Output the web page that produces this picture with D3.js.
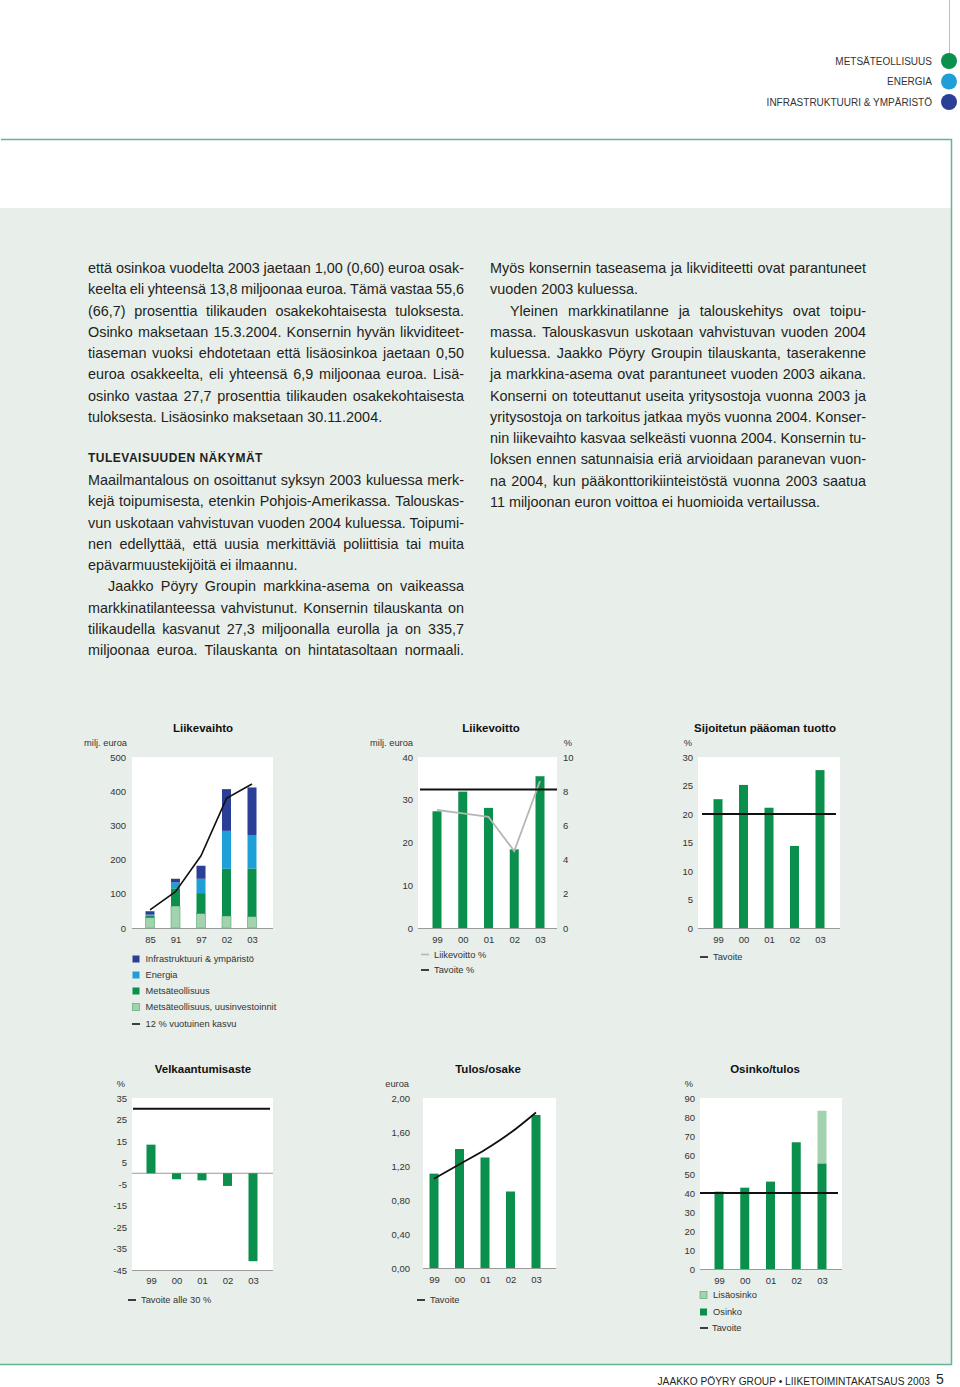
<!DOCTYPE html>
<html><head><meta charset="utf-8">
<script src="https://cdn.jsdelivr.net/npm/d3@7"></script>
<style>
html,body{margin:0;padding:0;background:#fff;}
svg{display:block;font-family:"Liberation Sans",Arial,Helvetica,sans-serif;}
</style></head><body>
<svg id="page" width="960" height="1387"></svg>
<script>
// ---------------- DATA ----------------
const divisions = ["METSÄTEOLLISUUS", "ENERGIA", "INFRASTRUKTUURI & YMPÄRISTÖ"];
const divisionColors = ["#0b8f4d", "#1e9fd8", "#2b3f97"];

const lvYears = ["85", "91", "97", "02", "03"];
const lvUusi = [30, 64, 42, 35, 33];
const lvMetsa = [6, 52, 60, 138, 141];
const lvEnergia = [3, 17, 42, 111, 98];
const lvInfra = [10, 11, 38, 122, 139];
const lvKasvu = [53, 106, 211, 379, 421];
const lvTicks = [0, 100, 200, 300, 400, 500];

const years = ["99", "00", "01", "02", "03"];
const liikevoitto = [27.3, 31.9, 28.1, 18.4, 35.5];
const liikevoittoPct = [6.9, 6.7, 6.5, 4.5, 8.6];
const liikevoittoTavoite = 8.1;
const lvoTicks = [0, 10, 20, 30, 40];
const lvoPctTicks = [0, 2, 4, 6, 8, 10];

const spTuotto = [22.6, 25.1, 21.1, 14.4, 27.7];
const spTavoite = 20;
const spTicks = [0, 5, 10, 15, 20, 25, 30];

const velka = [13.3, -2.8, -3.3, -5.9, -40.9];
const velkaTavoite = 30;
const velkaTicks = [35, 25, 15, 5, -5, -15, -25, -35, -45];

const eps = [1.11, 1.40, 1.30, 0.90, 1.80];
const epsTavoite = [1.05, 1.22, 1.39, 1.59, 1.83];
const epsTicks = [0, 0.4, 0.8, 1.2, 1.6, 2.0];

const osinko = [40.7, 42.8, 46.0, 66.7, 55.6];
const lisaosinko = [0, 0, 0, 0, 27.7];
const osinkoTavoite = 40;
const osinkoTicks = [0, 10, 20, 30, 40, 50, 60, 70, 80, 90];

const leftLines = [
  ["että osinkoa vuodelta 2003 jaetaan 1,00 (0,60) euroa osak-", 1, 0],
  ["keelta eli yhteensä 13,8 miljoonaa euroa. Tämä vastaa 55,6", 1, 0],
  ["(66,7) prosenttia tilikauden osakekohtaisesta tuloksesta.", 1, 0],
  ["Osinko maksetaan 15.3.2004. Konsernin hyvän likviditeet-", 1, 0],
  ["tiaseman vuoksi ehdotetaan että lisäosinkoa jaetaan 0,50", 1, 0],
  ["euroa osakkeelta, eli yhteensä 6,9 miljoonaa euroa. Lisä-", 1, 0],
  ["osinko vastaa 27,7 prosenttia tilikauden osakekohtaisesta", 1, 0],
  ["tuloksesta. Lisäosinko maksetaan 30.11.2004.", 0, 0]
];
const heading = "TULEVAISUUDEN NÄKYMÄT";
const leftLines2 = [
  ["Maailmantalous on osoittanut syksyn 2003 kuluessa merk-", 1, 0],
  ["kejä toipumisesta, etenkin Pohjois-Amerikassa. Talouskas-", 1, 0],
  ["vun uskotaan vahvistuvan vuoden 2004 kuluessa. Toipumi-", 1, 0],
  ["nen edellyttää, että uusia merkittäviä poliittisia tai muita", 1, 0],
  ["epävarmuustekijöitä ei ilmaannu.", 0, 0],
  ["Jaakko Pöyry Groupin markkina-asema on vaikeassa", 1, 1],
  ["markkinatilanteessa vahvistunut. Konsernin tilauskanta on", 1, 0],
  ["tilikaudella kasvanut 27,3 miljoonalla eurolla ja on 335,7", 1, 0],
  ["miljoonaa euroa. Tilauskanta on hintatasoltaan normaali.", 1, 0]
];
const rightLines = [
  ["Myös konsernin taseasema ja likviditeetti ovat parantuneet", 1, 0],
  ["vuoden 2003 kuluessa.", 0, 0],
  ["Yleinen markkinatilanne ja talouskehitys ovat toipu-", 1, 1],
  ["massa. Talouskasvun uskotaan vahvistuvan vuoden 2004", 1, 0],
  ["kuluessa. Jaakko Pöyry Groupin tilauskanta, taserakenne", 1, 0],
  ["ja markkina-asema ovat parantuneet vuoden 2003 aikana.", 1, 0],
  ["Konserni on toteuttanut useita yritysostoja vuonna 2003 ja", 1, 0],
  ["yritysostoja on tarkoitus jatkaa myös vuonna 2004. Konser-", 1, 0],
  ["nin liikevaihto kasvaa selkeästi vuonna 2004. Konsernin tu-", 1, 0],
  ["loksen ennen satunnaisia eriä arvioidaan paranevan vuon-", 1, 0],
  ["na 2004, kun pääkonttorikiinteistöstä vuonna 2003 saatua", 1, 0],
  ["11 miljoonan euron voittoa ei huomioida vertailussa.", 0, 0]
];

// ---------------- STYLE ----------------
const FONT = '"Liberation Sans", Arial, Helvetica, sans-serif';
const C = {
  text: "#231f20", panel: "#e8eee9", border: "#67b494",
  green: "#0b8f4d", lightBlue: "#1e9fd8", darkBlue: "#2b3f97", lightGreen: "#a3d2ae",
  axis: "#9a9a9a"
};
const TICK = 9.5, LEG = 9.3;

const svg = d3.select("#page");

// ---------------- PAGE FRAME ----------------
svg.append("rect").attr("x", 0).attr("y", 208).attr("width", 951).attr("height", 1156).attr("fill", C.panel);
svg.append("path").attr("d", "M1,139.5 H951.5 V1364.5 H0").attr("fill", "none").attr("stroke", C.border).attr("stroke-width", 1.5);
svg.append("line").attr("x1", 949.5).attr("x2", 949.5).attr("y1", 0).attr("y2", 55).attr("stroke", "#bdbdbd").attr("stroke-width", 1);

const hdr = svg.append("g");
divisions.forEach((d, i) => {
  const cy = 61 + i * 20.5;
  hdr.append("circle").attr("cx", 949).attr("cy", cy).attr("r", 8).attr("fill", divisionColors[i]);
  hdr.append("text").attr("x", 932).attr("y", cy + 3.7).attr("text-anchor", "end")
    .attr("font-size", 10).attr("fill", "#333").text(d);
});

// footer
svg.append("text").attr("x", 930).attr("y", 1384.5).attr("text-anchor", "end").attr("font-size", 10.2).attr("fill", C.text)
  .text("JAAKKO PÖYRY GROUP  •  LIIKETOIMINTAKATSAUS 2003");
svg.append("text").attr("x", 936).attr("y", 1384).attr("font-size", 14).attr("fill", C.text).text("5");

// ---------------- BODY TEXT ----------------
function textBlock(lines, x0, y0, width) {
  lines.forEach((l, i) => {
    const indent = l[2] ? 20 : 0;
    const t = svg.append("text").attr("x", x0 + indent).attr("y", y0 + i * 21.25)
      .attr("font-size", 14.4).attr("fill", C.text).attr("xml:space", "preserve").text(l[0]);
    if (l[1]) {
      const len = t.node().getComputedTextLength();
      const spaces = (l[0].match(/ /g) || []).length;
      if (spaces > 0) t.attr("word-spacing", ((width - indent - len) / spaces).toFixed(3));
    }
  });
}
textBlock(leftLines, 88, 273, 376);
svg.append("text").attr("x", 88).attr("y", 462).attr("font-size", 12).attr("font-weight", "bold")
  .attr("letter-spacing", 0.5).attr("fill", C.text).text(heading);
textBlock(leftLines2, 88, 485, 376);
textBlock(rightLines, 490, 273, 376);

// ---------------- CHART HELPERS ----------------
function styleAxis(a) {
  a.attr("font-family", FONT).attr("font-size", TICK);
  a.select(".domain").remove();
  a.selectAll("text").attr("fill", "#333");
}

function makeChart(o) {
  const g = svg.append("g");
  g.append("rect").attr("x", o.left).attr("y", o.top).attr("width", o.right - o.left).attr("height", o.bottom - o.top).attr("fill", "#fff");
  const y = d3.scaleLinear().domain(o.yDomain).range([o.bottom, o.top]);
  const x = d3.scalePoint().domain(o.cats).range(o.xRange);
  g.append("g").attr("transform", `translate(${o.left},0)`)
    .call(d3.axisLeft(y).tickValues(o.yTicks).tickFormat(o.yFmt || (d => d)).tickSize(0).tickPadding(o.yPad || 5))
    .call(styleAxis);
  g.append("g").attr("transform", `translate(0,${o.bottom})`)
    .call(d3.axisBottom(x).tickSize(0).tickPadding(o.xPad || 8))
    .call(styleAxis);
  g.append("line").attr("x1", o.left).attr("x2", o.right).attr("y1", o.bottom + 0.5).attr("y2", o.bottom + 0.5)
    .attr("stroke", C.axis).attr("stroke-width", 1);
  g.append("text").attr("x", o.titleX).attr("y", o.top - 25).attr("text-anchor", "middle")
    .attr("font-size", 11.5).attr("font-weight", "bold").attr("fill", "#111").text(o.title);
  g.append("text").attr("x", o.unitX).attr("y", o.top - 11).attr("text-anchor", "end")
    .attr("font-size", LEG).attr("fill", "#333").text(o.unit);
  return { g, x, y };
}

function bars(ch, vals, color, base) {
  const b = base || vals.map(() => 0);
  ch.g.append("g").selectAll("rect").data(vals).join("rect")
    .attr("x", (d, i) => ch.x(ch.x.domain()[i]) - 4.5)
    .attr("width", 9)
    .attr("y", (d, i) => ch.y(Math.max(b[i] + d, b[i])))
    .attr("height", (d, i) => Math.abs(ch.y(b[i]) - ch.y(b[i] + d)))
    .attr("fill", color);
}

function hline(ch, v, x1, x2) {
  ch.g.append("line").attr("x1", x1).attr("x2", x2).attr("y1", ch.y(v)).attr("y2", ch.y(v))
    .attr("stroke", "#111").attr("stroke-width", 2);
}

function legendSquare(x, y, color, label, stroke) {
  svg.append("rect").attr("x", x).attr("y", y - 3.5).attr("width", 7).attr("height", 7).attr("fill", color)
    .attr("stroke", stroke || "none").attr("stroke-width", 0.8);
  svg.append("text").attr("x", x + 13).attr("y", y + 3.2).attr("font-size", LEG).attr("fill", "#333").text(label);
}
function legendLine(x, y, color, label, tx) {
  svg.append("line").attr("x1", x).attr("x2", x + 8).attr("y1", y).attr("y2", y).attr("stroke", color).attr("stroke-width", 1.6);
  svg.append("text").attr("x", tx).attr("y", y + 3.2).attr("font-size", LEG).attr("fill", "#333").text(label);
}

// ---------------- CHART 1: Liikevaihto ----------------
{
  const ch = makeChart({ left: 132, right: 273, top: 757, bottom: 928, xRange: [150, 252], cats: lvYears,
    yDomain: [0, 500], yTicks: lvTicks, yPad: 6, title: "Liikevaihto", titleX: 203, unit: "milj. euroa", unitX: 127 });
  const rows = lvYears.map((k, i) => ({ uusi: lvUusi[i], metsa: lvMetsa[i], energia: lvEnergia[i], infra: lvInfra[i] }));
  const keys = ["uusi", "metsa", "energia", "infra"];
  const cols = { uusi: C.lightGreen, metsa: C.green, energia: C.lightBlue, infra: C.darkBlue };
  const series = d3.stack().keys(keys)(rows);
  series.forEach(s => {
    ch.g.append("g").selectAll("rect").data(s).join("rect")
      .attr("x", (d, i) => ch.x(lvYears[i]) - 4.5).attr("width", 9)
      .attr("y", d => ch.y(d[1])).attr("height", d => ch.y(d[0]) - ch.y(d[1]))
      .attr("fill", cols[s.key])
      .attr("stroke", s.key === "uusi" ? "#6aaf82" : "none").attr("stroke-width", 0.7);
  });
  ch.g.append("path").datum(lvKasvu)
    .attr("d", d3.line().x((d, i) => ch.x(lvYears[i])).y(d => ch.y(d)))
    .attr("fill", "none").attr("stroke", "#111").attr("stroke-width", 1.6);
  legendSquare(132.5, 959, C.darkBlue, "Infrastruktuuri & ympäristö");
  legendSquare(132.5, 975, C.lightBlue, "Energia");
  legendSquare(132.5, 991, C.green, "Metsäteollisuus");
  legendSquare(132.5, 1007, C.lightGreen, "Metsäteollisuus, uusinvestoinnit", "#6aaf82");
  legendLine(132, 1024, "#111", "12 % vuotuinen kasvu", 145.5);
}

// ---------------- CHART 2: Liikevoitto ----------------
{
  const ch = makeChart({ left: 418, right: 557, top: 757, bottom: 928, xRange: [437, 540], cats: years,
    yDomain: [0, 40], yTicks: lvoTicks, yPad: 5, title: "Liikevoitto", titleX: 491, unit: "milj. euroa", unitX: 413 });
  const y2 = d3.scaleLinear().domain([0, 10]).range([928, 757]);
  ch.g.append("g").attr("transform", `translate(557,0)`)
    .call(d3.axisRight(y2).tickValues(lvoPctTicks).tickSize(0).tickPadding(6)).call(styleAxis);
  ch.g.append("text").attr("x", 568).attr("y", 746).attr("text-anchor", "middle").attr("font-size", LEG).attr("fill", "#333").text("%");
  bars(ch, liikevoitto, C.green);
  ch.g.append("path").datum(liikevoittoPct)
    .attr("d", d3.line().x((d, i) => ch.x(years[i])).y(d => y2(d)))
    .attr("fill", "none").attr("stroke", "#b4b8b5").attr("stroke-width", 1.8);
  ch.g.append("line").attr("x1", 420).attr("x2", 557).attr("y1", y2(liikevoittoTavoite)).attr("y2", y2(liikevoittoTavoite))
    .attr("stroke", "#111").attr("stroke-width", 2);
  legendLine(421, 954.5, "#b4b8b5", "Liikevoitto %", 434);
  legendLine(421, 970, "#111", "Tavoite %", 434);
}

// ---------------- CHART 3: Sijoitetun pääoman tuotto ----------------
{
  const ch = makeChart({ left: 698, right: 840, top: 757, bottom: 928, xRange: [718, 820], cats: years,
    yDomain: [0, 30], yTicks: spTicks, yPad: 5, title: "Sijoitetun pääoman tuotto", titleX: 765, unit: "%", unitX: 692 });
  bars(ch, spTuotto, C.green);
  hline(ch, spTavoite, 702, 836);
  legendLine(700, 957, "#111", "Tavoite", 713);
}

// ---------------- CHART 4: Velkaantumisaste ----------------
{
  const ch = makeChart({ left: 132, right: 273, top: 1098, bottom: 1270, xRange: [151, 253], cats: years,
    yDomain: [-45, 35], yTicks: velkaTicks, yPad: 5, xPad: 7, title: "Velkaantumisaste", titleX: 203, unit: "%", unitX: 125 });
  ch.g.append("line").attr("x1", 132).attr("x2", 273).attr("y1", ch.y(0)).attr("y2", ch.y(0)).attr("stroke", C.axis).attr("stroke-width", 1);
  bars(ch, velka, C.green);
  hline(ch, velkaTavoite, 133, 270);
  legendLine(128, 1300, "#111", "Tavoite alle 30 %", 141);
}

// ---------------- CHART 5: Tulos/osake ----------------
{
  const ch = makeChart({ left: 423, right: 556, top: 1098, bottom: 1268, xRange: [434, 536], cats: years,
    yDomain: [0, 2], yTicks: epsTicks, yFmt: d => d.toFixed(2).replace(".", ","), yPad: 13, xPad: 8,
    title: "Tulos/osake", titleX: 488, unit: "euroa", unitX: 409 });
  bars(ch, eps, C.green);
  ch.g.append("path").datum(epsTavoite)
    .attr("d", d3.line().x((d, i) => ch.x(years[i])).y(d => ch.y(d)).curve(d3.curveMonotoneX))
    .attr("fill", "none").attr("stroke", "#111").attr("stroke-width", 1.8);
  legendLine(417, 1300, "#111", "Tavoite", 430);
}

// ---------------- CHART 6: Osinko/tulos ----------------
{
  const ch = makeChart({ left: 700, right: 842, top: 1098, bottom: 1269, xRange: [719, 822], cats: years,
    yDomain: [0, 90], yTicks: osinkoTicks, yPad: 5, xPad: 8, title: "Osinko/tulos", titleX: 765, unit: "%", unitX: 693 });
  bars(ch, osinko, C.green);
  bars(ch, lisaosinko, C.lightGreen, osinko);
  hline(ch, osinkoTavoite, 700, 838);
  legendSquare(700, 1295, C.lightGreen, "Lisäosinko", "#6aaf82");
  legendSquare(700, 1312, C.green, "Osinko");
  legendLine(700, 1328, "#111", "Tavoite", 712);
}
</script>
</body></html>
